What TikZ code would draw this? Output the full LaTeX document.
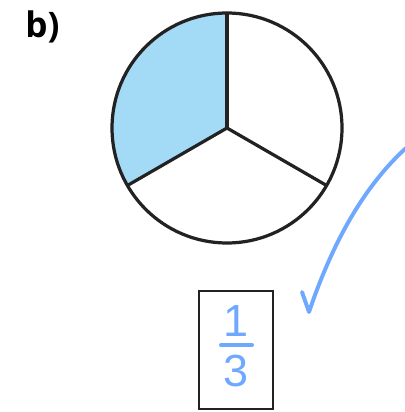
\documentclass[tikz,border=0pt]{standalone}
\usepackage{fontspec}
\usepackage{tikz}
\usetikzlibrary{calc}
\newfontfamily\labelfont{Open Sans}
\newfontfamily\handfont{Liberation Sans}
\definecolor{pieblue}{HTML}{A3DAF6}
\definecolor{penblue}{HTML}{6FA8FF}
\definecolor{inkgrey}{HTML}{222222}

\begin{document}
\begin{tikzpicture}[
x=0.025cm, y=-0.025cm,
part/.style={line width=2.3pt, draw=inkgrey, line join=round},
answerbox/.style={draw=inkgrey, line width=1.4pt, minimum width=1.83cm, minimum height=2.94cm, inner sep=0pt},
hand/.style={text=penblue, font=\handfont\fontsize{32}{32}\selectfont, inner sep=0pt},
pen/.style={penblue, line width=2.8pt, line cap=round, line join=round}
]
\useasboundingbox (0,0) rectangle (404,412);
\node[anchor=base west, inner sep=0pt, font=\labelfont\bfseries\fontsize{25}{25}\selectfont] (part) at (25,38) {b)};
% pie in thirds
\coordinate (c) at (227,128);
\fill[pieblue] (c) -- ($(c)+(150:115)$) arc[start angle=150, end angle=270, radius=115] -- cycle;
\draw[part] (c) circle[radius=115];
\foreach \a in {30,150,270}
  \draw[part] (c) -- ($(c)+(\a:115)$);
% answer
\node[answerbox] (answer) at (236,350) {};
\node[hand] (num) at (236,321) {1};
\node[hand] (den) at (236,371) {3};
\coordinate (barl) at (221,345);
\coordinate (barr) at (252,345);
\draw[pen] (barl) -- (barr);
% tick
\coordinate (tick0) at (302,292);
\coordinate (tick1) at (309,312);
\coordinate (tick2) at (406,148);
\draw[pen] (tick0) -- (tick1) .. controls (330,250) and (360,190) .. (tick2);
\end{tikzpicture}
\end{document}
